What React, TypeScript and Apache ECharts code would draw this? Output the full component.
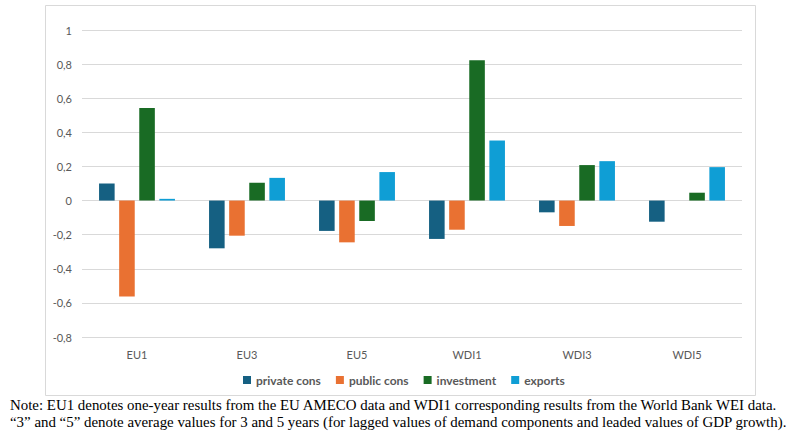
import React, { useEffect, useRef } from "react";
import * as echarts from "echarts";

const categories = ["EU1", "EU3", "EU5", "WDI1", "WDI3", "WDI5"];
const privateCons = [0.1, -0.28, -0.178, -0.225, -0.069, -0.124];
const publicCons = [-0.563, -0.206, -0.245, -0.171, -0.149, 0];
const investment = [0.543, 0.104, -0.12, 0.822, 0.208, 0.046];
const exportsVals = [0.01, 0.133, 0.167, 0.352, 0.231, 0.196];
const seriesNames = ["private cons", "public cons", "investment", "exports"];
const noteLines = [
  "Note: EU1 denotes one-year results from the EU AMECO data and WDI1 corresponding results from the World Bank WEI data.",
  "\u201c3\u201d and \u201c5\u201d denote average values for 3 and 5 years (for lagged values of demand components and leaded values of GDP growth).",
];

const colors = ["#156082", "#E97132", "#196B24", "#0F9ED5"];
const font = "Lato, 'Open Sans', sans-serif";

export default function App() {
  const ref = useRef<HTMLDivElement>(null);
  useEffect(() => {
    if (!ref.current) return;
    const chart = echarts.init(ref.current, undefined, { renderer: "svg" });
    const data = [privateCons, publicCons, investment, exportsVals];
    chart.setOption({
      animation: false,
      color: colors,
      textStyle: { fontFamily: font },
      grid: { left: 82, right: 59, top: 30, bottom: 106, containLabel: false },
      legend: {
        left: 238,
        top: 369,
        itemWidth: 8,
        itemHeight: 8,
        itemGap: 15,
        icon: "rect",
        textStyle: { color: "#595959", fontSize: 12, fontWeight: "bold", fontFamily: font },
        data: seriesNames,
      },
      xAxis: {
        type: "category",
        data: categories,
        axisLine: { show: false, onZero: false },
        axisTick: { show: false },
        axisLabel: { color: "#595959", fontSize: 11, margin: 12, fontFamily: font },
      },
      yAxis: {
        type: "value",
        min: -0.8,
        max: 1,
        interval: 0.2,
        axisLine: { show: false },
        axisTick: { show: false },
        splitLine: { lineStyle: { color: "#d9d9d9", width: 1 } },
        axisLabel: {
          color: "#595959",
          fontSize: 11,
          margin: 10,
          fontFamily: font,
          formatter: (v: number) => String(Math.round(v * 10) / 10).replace(".", ","),
        },
      },
      series: data.map((d, i) => ({
        name: seriesNames[i],
        type: "bar",
        data: d,
        barGap: "29%",
        barCategoryGap: "31%",
      })),
      graphic: [
        {
          type: "rect",
          shape: { x: 45.5, y: 5.5, width: 710, height: 390 },
          style: { fill: "none", stroke: "#d9d9d9", lineWidth: 1 },
          silent: true,
        },
        ...noteLines.map((t, i) => ({
          type: "text",
          left: 10,
          top: 397.5 + i * 16.5,
          style: {
            text: t,
            fill: "#000",
            fontSize: 14.9,
            fontFamily: "'Liberation Serif', 'DejaVu Serif', serif",
          },
        })),
      ],
    });
    return () => chart.dispose();
  }, []);
  return (
    <div style={{ position: "absolute", left: 0, top: 0, width: 801, height: 443, background: "#fff" }}>
      <div ref={ref} style={{ width: 801, height: 443 }} />
    </div>
  );
}
